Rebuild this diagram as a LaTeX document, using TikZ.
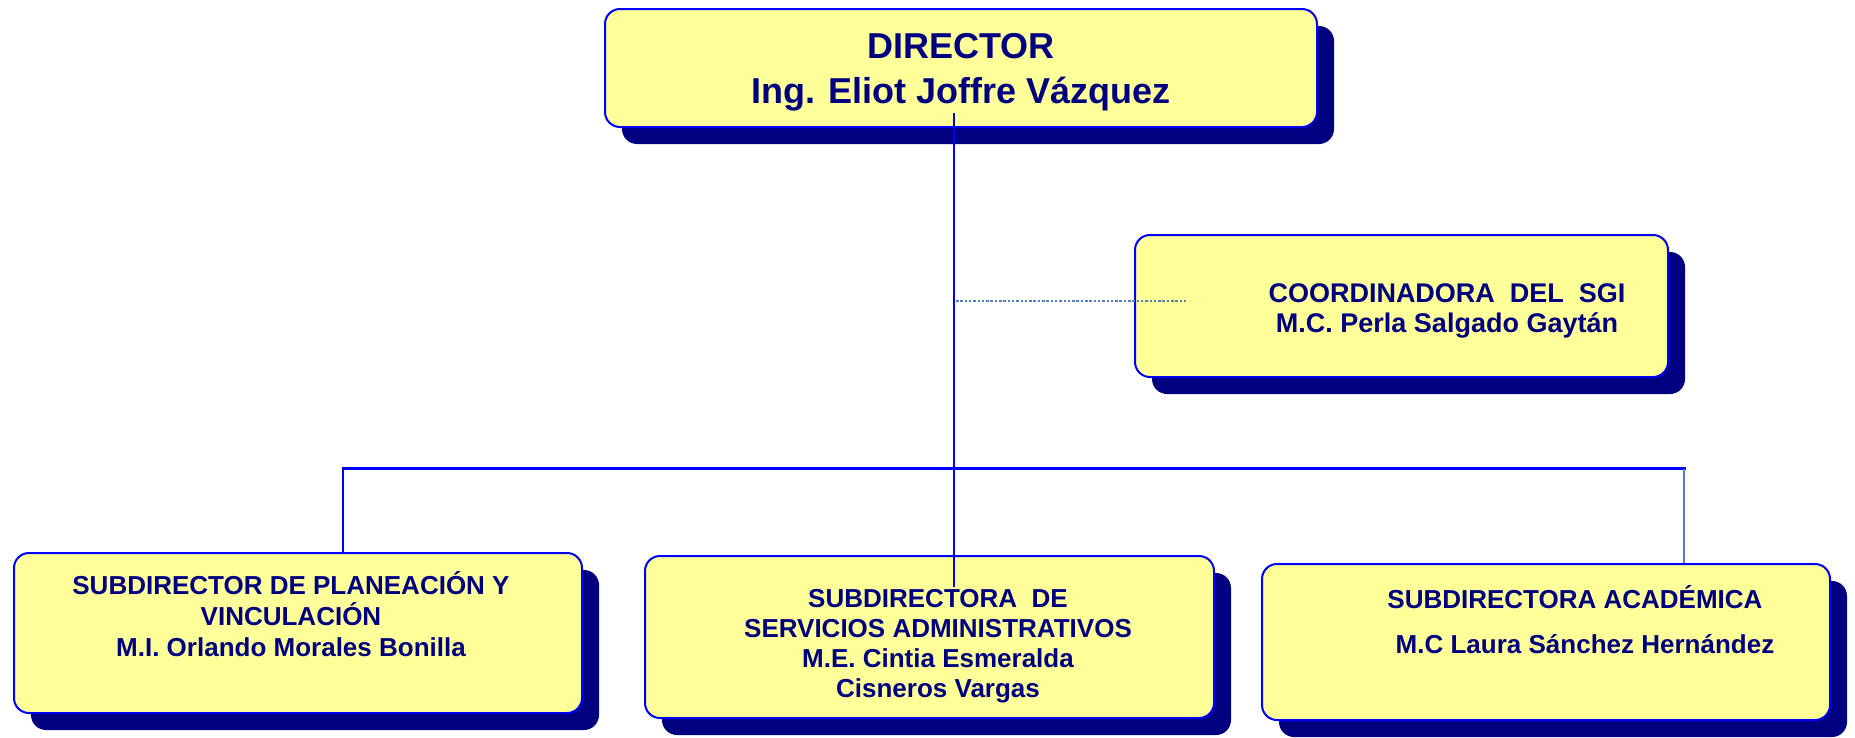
\documentclass[tikz,border=0pt]{standalone}
\usepackage{fontspec}
\setmainfont{Liberation Sans}
\usetikzlibrary{shadows}
\definecolor{navy}{RGB}{0,0,128}
\definecolor{boxfill}{RGB}{255,255,153}
\definecolor{lineblue}{RGB}{0,0,255}
\definecolor{steel}{RGB}{79,129,189}
\newcommand\txtstack[2]{\vtop{\baselineskip=#1\lineskiplimit=-100pt\halign{\hfil##\hfil\cr#2\crcr}}}
\begin{document}
\begin{tikzpicture}[x=1pt,y=-1pt,
  orgbox/.style={draw=lineblue, line width=2pt, fill=boxfill, rounded corners=15pt,
    inner sep=0pt, drop shadow={shadow xshift=17pt, shadow yshift=-17pt, fill=navy, opacity=1}},
  orgtext/.style={text=navy, inner sep=0pt, anchor=base},
  conn/.style={draw=lineblue, line width=2.2pt},
  thinconn/.style={draw=steel, line width=1.8pt},
  dotconn/.style={draw=steel, line width=2.5pt, dash pattern=on 2.5pt off 1.8pt}
]
\useasboundingbox (0,0) rectangle (1855,737);

% boxes
\node[orgbox, minimum width=712pt, minimum height=118pt] (dir) at (961,68) {};
\node[orgbox, minimum width=533pt, minimum height=142pt] (coord) at (1401.5,306) {};
\node[orgbox, minimum width=568pt, minimum height=160pt] (left) at (298,633) {};
\node[orgbox, minimum width=569pt, minimum height=162pt] (mid) at (929.5,637) {};
\node[orgbox, minimum width=568pt, minimum height=156pt] (right) at (1546,642) {};

% connectors
\coordinate (vtop) at (954,113);
\coordinate (vbot) at (954,587);
\coordinate (hl) at (343,468.5);
\coordinate (hr) at (1686,468.5);
\coordinate (rt) at (1684,468.5);
\coordinate (d1) at (956,301);
\coordinate (d2) at (1188,301);

\draw[conn] (vtop) -- (vbot);
\draw[conn] (hl |- left.north) -- (hl) -- (hr);
\draw[thinconn] (rt) -- (rt |- right.north);
\draw[dotconn] (d1) -- (d2);

% texts
\node[orgtext, font={\fontsize{36}{45}\selectfont\bfseries}] (tdir) at (961,58)
  {\txtstack{45pt}{DIRECTOR\cr Ing. Eliot Joffre Vázquez}};
\node[orgtext, font={\fontsize{27}{30}\selectfont\bfseries}] (tcoord) at (1447,302)
  {\txtstack{30pt}{COORDINADORA\ \ DEL\ \ SGI\cr M.C. Perla Salgado Gaytán}};
\node[orgtext, font={\fontsize{26}{31}\selectfont\bfseries}] (tleft) at (291,594)
  {\txtstack{31pt}{SUBDIRECTOR DE PLANEACIÓN Y\cr VINCULACIÓN\cr M.I. Orlando Morales Bonilla}};
\node[orgtext, font={\fontsize{26}{30}\selectfont\bfseries}] (tmid) at (938,607)
  {\txtstack{30pt}{SUBDIRECTORA\ \ DE\cr SERVICIOS ADMINISTRATIVOS\cr M.E. Cintia Esmeralda\cr Cisneros Vargas}};
\node[orgtext, font={\fontsize{26}{45}\selectfont\bfseries}] (tright) at (1575,608)
  {\txtstack{45pt}{SUBDIRECTORA ACADÉMICA\cr \hspace*{20pt}M.C Laura Sánchez Hernández}};
\end{tikzpicture}
\end{document}
